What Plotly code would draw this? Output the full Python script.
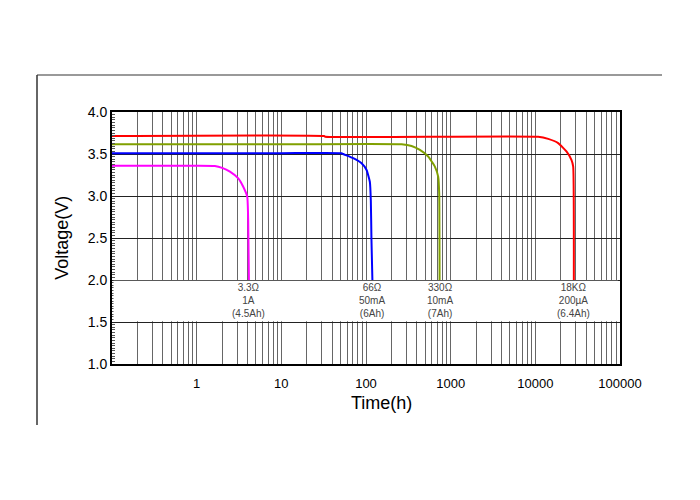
import numpy as np
import plotly.graph_objects as go

# ---- data ----
mag_t = [0.1, 1.0, 1.64, 2.0, 2.47, 3.10, 3.55, 3.96, 4.06, 4.14]
mag_v = [3.36, 3.36, 3.357, 3.335, 3.29, 3.21, 3.11, 2.99, 2.71, 2.0]

blue_t = [0.1, 10, 51.5, 53.8, 70.6, 88.7, 101.6, 111, 114, 116, 119]
blue_v = [3.51, 3.51, 3.51, 3.50, 3.45, 3.39, 3.31, 3.17, 2.95, 2.48, 2.0]

green_t = [0.1, 10, 263, 345, 433, 543, 651, 712, 732, 740]
green_v = [3.615, 3.615, 3.615, 3.595, 3.548, 3.47, 3.35, 3.23, 3.03, 2.0]

red_t = [0.1, 32.0, 33.0, 10800, 14200, 18600, 23300, 26700, 28000, 28500]
red_v = [3.714, 3.714, 3.706, 3.706, 3.68, 3.63, 3.53, 3.43, 3.35, 2.0]

series_colors = ["#ff00ff", "#0000ff", "#80a000", "#ff0000"]

label_t = [4.14, 119, 740, 28500]
label_text = ["3.3Ω<br>1A<br>(4.5Ah)", "66Ω<br>50mA<br>(6Ah)",
              "330Ω<br>10mA<br>(7Ah)", "18KΩ<br>200µA<br>(6.4Ah)"]

x_tickvals = [1, 10, 100, 1000, 10000, 100000]
x_ticktext = ["1", "10", "100", "1000", "10000", "100000"]
x_minorvals = [m * 10.0 ** e for e in range(-1, 5) for m in range(1, 10)]

FONT = "Liberation Sans, Arial, sans-serif"

fig = go.Figure()
for t, v, c in zip([mag_t, blue_t, green_t, red_t],
                   [mag_v, blue_v, green_v, red_v], series_colors):
    fig.add_trace(go.Scatter(x=t, y=v, mode="lines",
                             line=dict(color=c, width=2, shape="spline", smoothing=0.4),
                             showlegend=False, hoverinfo="skip"))

# white band behind the labels
fig.add_shape(type="rect", xref="paper", yref="y", x0=0.003, x1=0.996,
              y0=1.508, y1=1.992, fillcolor="white", line=dict(width=0),
              layer="above")

for t, txt in zip(label_t, label_text):
    fig.add_annotation(x=np.log10(t), y=1.76, xref="x", yref="y", text=txt,
                       showarrow=False, font=dict(family=FONT, size=10, color="#444"),
                       align="center")

# axis titles
fig.add_annotation(x=0.53, y=-0.153, xref="paper", yref="paper", text="Time(h)",
                   showarrow=False, font=dict(family=FONT, size=18, color="black"),
                   xanchor="center", yanchor="middle")
fig.add_annotation(x=-0.099, y=0.5, xref="paper", yref="paper", text="Voltage(V)",
                   showarrow=False, textangle=-90,
                   font=dict(family=FONT, size=18, color="black"),
                   xanchor="center", yanchor="middle")

# outer frame (top & left)
fig.add_shape(type="line", xref="paper", yref="paper",
              x0=(37 - 112) / 508, x1=(662 - 112) / 508,
              y0=(364 - 75) / 252, y1=(364 - 75) / 252,
              line=dict(color="#777", width=1.5))
fig.add_shape(type="line", xref="paper", yref="paper",
              x0=(37 - 112) / 508, x1=(37 - 112) / 508,
              y0=(364 - 75) / 252, y1=(364 - 425) / 252,
              line=dict(color="#333", width=1.5))

fig.update_xaxes(type="log", range=[-1, 5], tickmode="array",
                 tickvals=x_tickvals, ticktext=x_ticktext, ticks="",
                 showgrid=True, gridcolor="#666", gridwidth=1,
                 minor=dict(tickmode="array", tickvals=x_minorvals, showgrid=True,
                            gridcolor="#666", gridwidth=1, ticks=""),
                 showline=True, linecolor="black", linewidth=2, mirror=True,
                 tickfont=dict(family=FONT, size=13, color="black"),
                 ticklabelstandoff=6, zeroline=False)
fig.update_yaxes(range=[1.0, 4.0], dtick=0.5, tick0=1.0, tickformat=".1f",
                 showgrid=True, gridcolor="#222", gridwidth=1, ticks="",
                 minor=dict(dtick=0.03125, tick0=1.0, ticks="inside", ticklen=3,
                            tickcolor="#555", showgrid=False),
                 showline=True, linecolor="black", linewidth=2, mirror=True,
                 tickfont=dict(family=FONT, size=14, color="black"), zeroline=False)

# page body adds an 8px offset, so margins are shifted to compensate
fig.update_layout(width=700, height=500,
                  margin=dict(l=104, r=88, t=104, b=144),
                  paper_bgcolor="white", plot_bgcolor="white",
                  font=dict(family=FONT))

fig.write_html("out.html")
